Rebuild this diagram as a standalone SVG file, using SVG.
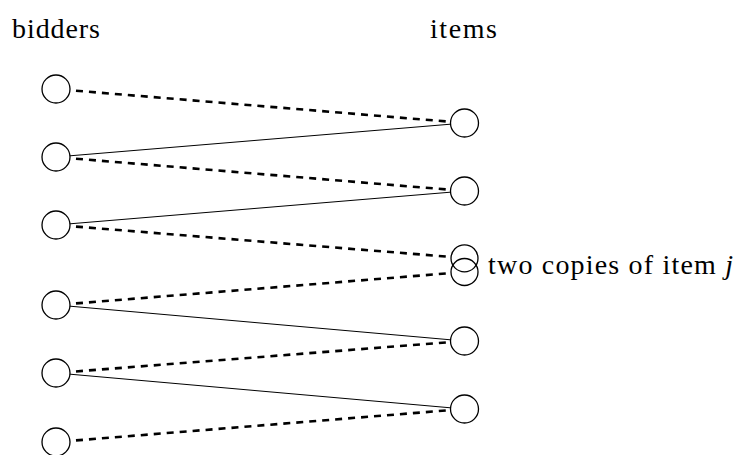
<svg xmlns="http://www.w3.org/2000/svg" width="742" height="455" viewBox="0 0 742 455">
<style>
.n{fill:#fff;stroke:#000;stroke-width:1.3}
.s{stroke:#000;stroke-width:1;fill:none}
.d{stroke:#000;stroke-width:2.6;fill:none;stroke-dasharray:7 6;stroke-dashoffset:7}
text{font-size:28px;fill:#000}
</style>
<rect width="742" height="455" fill="#fff"/>
<g id="connectors">
<line class="d" x1="70" y1="90.2" x2="450.5" y2="121.8"/>
<line class="s" x1="70" y1="155.8" x2="450.5" y2="124.2"/>
<line class="d" x1="70" y1="158.2" x2="450.5" y2="189.8"/>
<line class="s" x1="70" y1="223.8" x2="450.5" y2="192.2"/>
<line class="d" x1="70" y1="226.1" x2="450.5" y2="256.9"/>
<line class="d" x1="70" y1="303.9" x2="450.5" y2="273.1"/>
<line class="s" x1="70" y1="306.2" x2="450.5" y2="339.8"/>
<line class="d" x1="70" y1="371.9" x2="450.5" y2="342.1"/>
<line class="s" x1="70" y1="374.2" x2="450.5" y2="407.8"/>
<line class="d" x1="70" y1="440.9" x2="450.5" y2="410.1"/>
</g>
<g id="bidder1"><circle class="n" cx="56" cy="89" r="14"/></g>
<g id="bidder2"><circle class="n" cx="56" cy="157" r="14"/></g>
<g id="bidder3"><circle class="n" cx="56" cy="225" r="14"/></g>
<g id="bidder4"><circle class="n" cx="56" cy="305" r="14"/></g>
<g id="bidder5"><circle class="n" cx="56" cy="373" r="14"/></g>
<g id="bidder6"><circle class="n" cx="56" cy="442" r="14"/></g>
<g id="item1"><circle class="n" cx="464.5" cy="123" r="14"/></g>
<g id="item2"><circle class="n" cx="464.5" cy="191" r="14"/></g>
<g id="itemj1"><circle class="n" cx="464.5" cy="258.3" r="13.5"/></g>
<g id="itemj2"><circle class="n" cx="464.5" cy="272" r="13.5" style="fill:none"/></g>
<g id="item4"><circle class="n" cx="464.5" cy="341" r="14"/></g>
<g id="item5"><circle class="n" cx="464.5" cy="409" r="14"/></g>
<g id="labels" font-family="'Liberation Serif', 'Times New Roman', serif">
<text x="12" y="37.5" textLength="88" lengthAdjust="spacing">bidders</text>
<text x="430" y="37.5" textLength="67" lengthAdjust="spacing">items</text>
<text x="488" y="273.5" textLength="245" lengthAdjust="spacing">two copies of item <tspan font-style="italic">j</tspan></text>
</g>
</svg>
